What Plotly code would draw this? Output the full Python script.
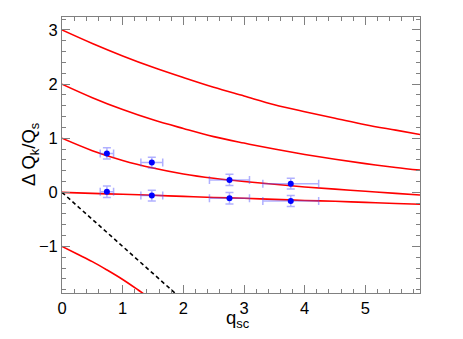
import plotly.graph_objects as go

# curves, one per mode k
q_grid = [0, 0.5, 1, 1.5, 2, 2.5, 3, 3.5, 4, 4.5, 5, 5.5, 5.9]
k3 = [3.0, 2.75, 2.52, 2.31, 2.12, 1.94, 1.78, 1.62, 1.49, 1.37, 1.25, 1.15, 1.07]
k2 = [2.0, 1.75, 1.53, 1.34, 1.18, 1.03, 0.91, 0.80, 0.70, 0.61, 0.53, 0.46, 0.41]
k1 = [1.0, 0.77, 0.59, 0.45, 0.34, 0.26, 0.20, 0.15, 0.10, 0.06, 0.02, -0.02, -0.05]
k0 = [0.0, -0.02, -0.035, -0.055, -0.075, -0.095, -0.11, -0.13, -0.15, -0.165, -0.185, -0.205, -0.22]
q_neg = [0, 0.25, 0.5, 0.75, 1.0, 1.25, 1.5]
km1 = [-1.0, -1.14, -1.28, -1.44, -1.61, -1.80, -2.0]

# dashed reference line
q_dash = [0, 2]
y_dash = [0, -2]

# measured points
q_meas = [0.74, 1.48, 2.76, 3.77]
q_err = [0.11, 0.18, 0.33, 0.46]
upper = [0.72, 0.55, 0.23, 0.16]
lower = [0.01, -0.06, -0.11, -0.16]
y_err = [0.105, 0.10, 0.105, 0.10]

fig = go.Figure()
for ys in [k3, k2, k1, k0]:
    fig.add_trace(go.Scatter(x=q_grid, y=ys, mode='lines', line_shape='spline',
                             line=dict(color='red', width=1.6)))
fig.add_trace(go.Scatter(x=q_neg, y=km1, mode='lines', line_shape='spline',
                         line=dict(color='red', width=1.6)))
fig.add_trace(go.Scatter(x=q_dash, y=y_dash, mode='lines',
                         line=dict(color='black', width=1.6, dash='4px,3px')))

for ys in [upper, lower]:
    fig.add_trace(go.Scatter(
        x=q_meas, y=ys, mode='markers',
        marker=dict(color='blue', size=6),
        error_y=dict(type='data', array=y_err, color='rgba(80,80,255,0.45)', thickness=1.5, width=4),
        error_x=dict(type='data', array=q_err, color='rgba(80,80,255,0.45)', thickness=1.5, width=4)))

ax = dict(showline=True, linecolor='#808080', linewidth=1, mirror='ticks', automargin=False,
          ticks='inside', ticklen=8, tickcolor='#808080', showgrid=False, zeroline=False,
          tickfont=dict(size=16.5, color='black'),
          minor=dict(ticks='inside', ticklen=4, dtick=0.2, tickcolor='#808080'))

fig.update_xaxes(ax, range=[0, 5.9], dtick=1)
fig.update_yaxes(ax, range=[-1.86, 3.24], dtick=1)

# axis titles as annotations so they sit where the reference has them
fig.add_annotation(text='q<sub>sc</sub>', xref='paper', yref='paper', x=0.5, y=0,
                   xshift=-3, yshift=-26, showarrow=False, xanchor='center', yanchor='middle',
                   font=dict(size=18.5, color='black'))
fig.add_annotation(text='Δ Q<sub>k</sub>/Q<sub>s</sub>', xref='paper', yref='paper', x=0, y=0.5,
                   xshift=-32, showarrow=False, textangle=-90, xanchor='center', yanchor='middle',
                   font=dict(size=18.5, color='black'))

# the page body adds 8px, so the figure is 8px smaller and shifted margins
fig.update_layout(width=455, height=331, showlegend=False,
                  margin=dict(l=54, r=43, t=9, b=46),
                  plot_bgcolor='white', paper_bgcolor='white',
                  font=dict(family='Liberation Sans, Arial, sans-serif'))

fig.write_html("out.html")
